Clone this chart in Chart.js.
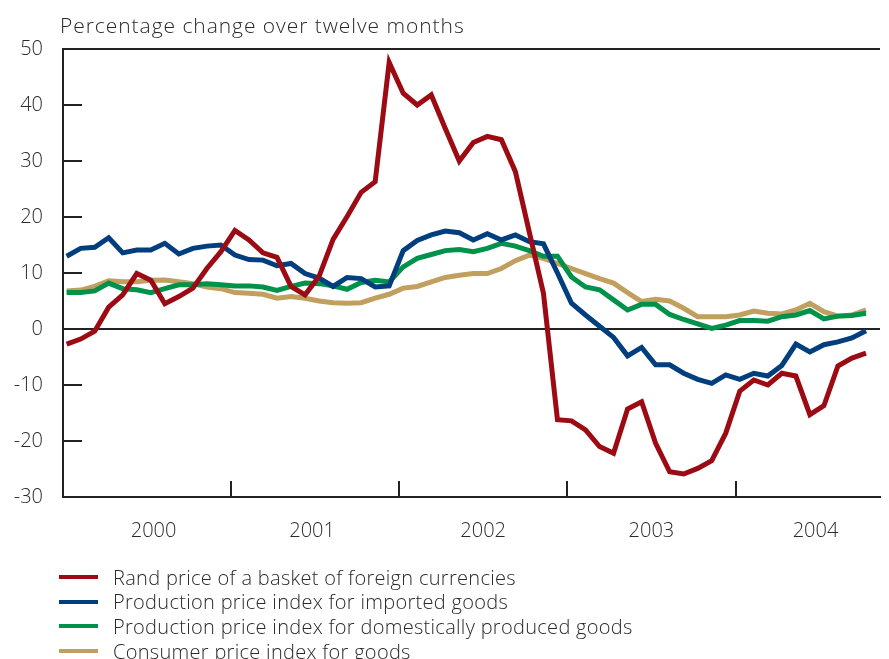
<!DOCTYPE html>
<html>
<head>
<meta charset="utf-8">
<script src="https://cdn.jsdelivr.net/npm/chart.js@4.4.1/dist/chart.umd.min.js"></script>
<style>
  body { margin: 0; background: #fff; }
  #wrap { position: relative; width: 889px; height: 659px; overflow: hidden;
          font-family: "Open Sans", sans-serif; font-weight: 300; color: #2a2a2a; }
  #title { position: absolute; left: 60px; top: 11px; font-size: 21px; line-height: 28px;
           letter-spacing: 0.95px; white-space: nowrap; }
  #legend { position: absolute; left: 59px; top: 565px; font-size: 20px; letter-spacing: 0.3px; }
  .row { display: flex; align-items: center; height: 24.6px; white-space: nowrap; }
  .swatch { width: 39px; height: 4px; margin-right: 15px; }
  canvas { position: absolute; left: 0; top: 0; }
</style>
</head>
<body>
<div id="wrap">
  <canvas id="chart" width="889" height="659"></canvas>
  <div id="title">Percentage change over twelve months</div>
  <div id="legend"></div>
</div>
<script>
// monthly, Jan 2000 - Oct 2004
const years = ['2000', '2001', '2002', '2003', '2004'];
const yearMid = [6.2, 17.5, 29.7, 41.7, 53.4];
const yearBreaks = [11.7, 23.7, 35.7, 47.7];
const yTicks = [-30, -20, -10, 0, 10, 20, 30, 40, 50];

const rand = [-2.7, -1.8, -0.4, 3.9, 6.1, 9.9, 8.7, 4.5, 5.8, 7.3,
  10.8, 13.8, 17.6, 15.9, 13.6, 12.8, 7.6, 6.1, 9.4, 16.0,
  20.1, 24.4, 26.3, 47.6, 42.1, 40.0, 41.8, 35.8, 30.0, 33.3,
  34.4, 33.8, 28.1, 17.2, 6.4, -16.2, -16.4, -18.0, -21.0, -22.2,
  -14.3, -13.0, -20.4, -25.5, -25.9, -24.9, -23.5, -18.6, -11.1, -9.1,
  -10.0, -7.9, -8.4, -15.3, -13.7, -6.6, -5.2, -4.3];
const ppiImported = [13.0, 14.4, 14.6, 16.3, 13.6, 14.1, 14.1, 15.3, 13.4, 14.4,
  14.8, 15.0, 13.2, 12.4, 12.3, 11.3, 11.7, 9.9, 9.1, 7.6,
  9.2, 9.0, 7.5, 7.7, 14.0, 15.8, 16.8, 17.5, 17.2, 15.9,
  17.0, 15.9, 16.8, 15.6, 15.2, 10.0, 4.6, 2.5, 0.5, -1.5,
  -4.8, -3.3, -6.4, -6.4, -7.9, -9.0, -9.7, -8.2, -9.0, -7.9,
  -8.4, -6.5, -2.7, -4.1, -2.8, -2.3, -1.6, -0.3];
const ppiDomestic = [6.5, 6.5, 6.8, 8.2, 7.2, 7.0, 6.5, 7.2, 7.9, 7.9,
  8.1, 7.9, 7.7, 7.7, 7.5, 6.9, 7.6, 8.2, 8.1, 7.7,
  7.1, 8.3, 8.7, 8.4, 11.1, 12.6, 13.3, 14.0, 14.2, 13.8,
  14.4, 15.3, 14.8, 14.0, 13.0, 13.0, 9.3, 7.5, 7.0, 5.2,
  3.4, 4.4, 4.4, 2.6, 1.7, 0.9, 0.1, 0.7, 1.5, 1.5,
  1.4, 2.2, 2.5, 3.3, 1.8, 2.3, 2.4, 2.8];
const cpiGoods = [6.8, 6.95, 7.6, 8.6, 8.45, 8.45, 8.7, 8.75, 8.45, 8.1,
  7.5, 7.2, 6.5, 6.4, 6.2, 5.5, 5.8, 5.5, 5.0, 4.7,
  4.6, 4.7, 5.5, 6.2, 7.3, 7.6, 8.4, 9.2, 9.6, 9.9,
  9.9, 10.8, 12.2, 13.2, 12.6, 11.7, 10.8, 9.9, 9.0, 8.2,
  6.5, 4.9, 5.3, 5.0, 3.7, 2.2, 2.2, 2.2, 2.5, 3.2,
  2.8, 2.7, 3.4, 4.6, 3.1, 2.3, 2.5, 3.4];

const seriesNames = [
  'Rand price of a basket of foreign currencies',
  'Production price index for imported goods',
  'Production price index for domestically produced goods',
  'Consumer price index for goods'
];
const seriesColors = ['#9c0a13', '#003e7e', '#00924a', '#c19f5e'];
const seriesData = [rand, ppiImported, ppiDomestic, cpiGoods];

const axisColor = '#222';
const font = { family: '"Open Sans", sans-serif', size: 20, weight: 300 };

// short tick marks, zero line, top frame, year separators
const frame = {
  id: 'frame',
  beforeDatasetsDraw(chart) {
    const { ctx, chartArea: a, scales: { x, y } } = chart;
    ctx.save();
    ctx.strokeStyle = axisColor;
    ctx.lineWidth = 2;
    ctx.beginPath();
    ctx.moveTo(a.left, a.top); ctx.lineTo(a.right, a.top);
    yTicks.forEach(function(v) {
      const py = Math.round(y.getPixelForValue(v));
      if (v === 0) {
        ctx.moveTo(a.left, py); ctx.lineTo(a.right, py);
      } else if (v !== 50 && v !== -30) {
        ctx.moveTo(a.left, py); ctx.lineTo(a.left + 19, py);
      }
    });
    yearBreaks.forEach(function(v) {
      const px = Math.round(x.getPixelForValue(v));
      ctx.moveTo(px, a.bottom); ctx.lineTo(px, a.bottom - 16);
    });
    ctx.stroke();
    ctx.restore();
  }
};

new Chart(document.getElementById('chart'), {
  type: 'line',
  data: {
    datasets: seriesData.map(function(vals, k) {
      return {
        label: seriesNames[k],
        data: vals.map(function(v, i) { return { x: i, y: v }; }),
        borderColor: seriesColors[k],
        borderWidth: 5,
        pointRadius: 0,
        tension: 0
      };
    })
  },
  options: {
    responsive: false,
    animation: false,
    layout: { padding: { left: 0, right: 9, top: 49, bottom: 0 } },
    plugins: { legend: { display: false }, tooltip: { enabled: false } },
    scales: {
      x: {
        type: 'linear', min: -0.26, max: 58,
        afterBuildTicks: function(s) { s.ticks = yearMid.map(function(v) { return { value: v }; }); },
        afterFit: function(s) { s.height = 162; },
        ticks: {
          autoSkip: false, maxRotation: 0, padding: 22, color: '#2a2a2a', font: font,
          callback: function(v, i) { return years[i]; }
        },
        grid: { display: false, drawTicks: false },
        border: { display: true, color: axisColor, width: 2 }
      },
      y: {
        min: -30, max: 50,
        afterBuildTicks: function(s) { s.ticks = yTicks.map(function(v) { return { value: v }; }); },
        afterFit: function(s) { s.width = 63; },
        ticks: { padding: 20, color: '#2a2a2a', font: font },
        grid: { display: false, drawTicks: false },
        border: { display: true, color: axisColor, width: 2 }
      }
    }
  },
  plugins: [frame]
});

const legend = document.getElementById('legend');
seriesNames.forEach(function(name, k) {
  const row = document.createElement('div');
  row.className = 'row';
  const sw = document.createElement('span');
  sw.className = 'swatch';
  sw.style.background = seriesColors[k];
  const txt = document.createElement('span');
  txt.textContent = name;
  row.appendChild(sw);
  row.appendChild(txt);
  legend.appendChild(row);
});
</script>
</body>
</html>
